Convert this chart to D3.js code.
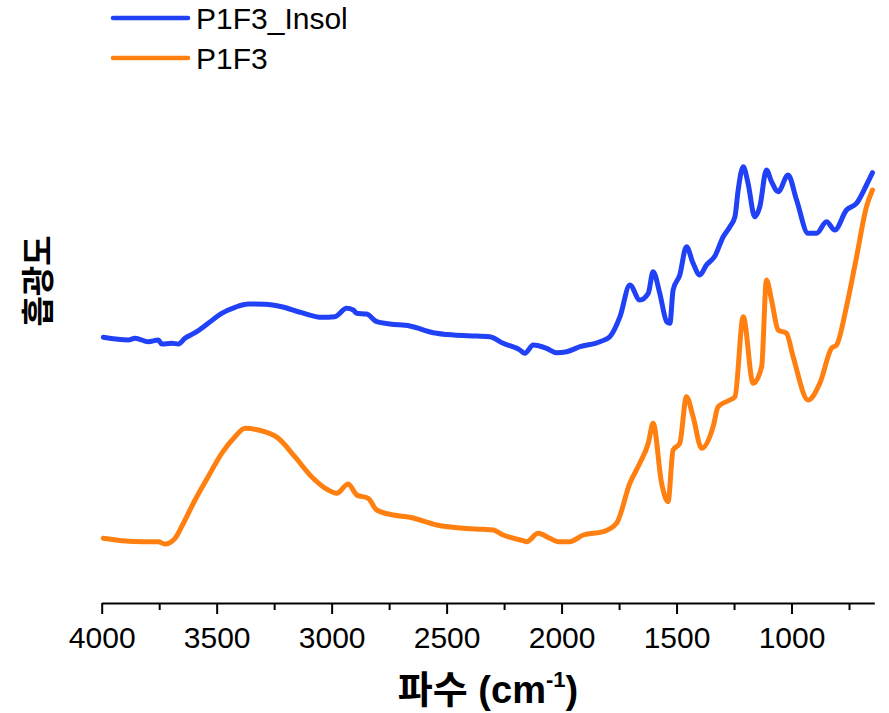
<!DOCTYPE html>
<html><head><meta charset="utf-8">
<script src="https://cdn.jsdelivr.net/npm/d3@7"></script>
<style>body{margin:0;background:#fff} svg{display:block}</style>
</head><body><svg id="c" width="889" height="713"></svg>
<script>
const seriesNames = ["P1F3_Insol", "P1F3"];
const seriesColors = ["#2041f5", "#ff8010"];
const majorTicks = [4000, 3500, 3000, 2500, 2000, 1500, 1000];
const minorTicks = [3750, 3250, 2750, 2250, 1750, 1250, 750];
const xTitle = "파수";
const yTitle = "흡광도";

const insolWn = [3993,3884,3855,3797,3754,3739,3696,3667,3638,3594,3537,3478,3420,3363,3290,3217,3130,3043,2986,2935,2906,2891,2848,2804,2747,2660,2558,2471,2370,2312,2254,2181,2160,2123,2065,2022,1978,1920,1833,1790,1746,1703,1660,1623,1602,1573,1543,1529,1515,1486,1457,1428,1399,1370,1333,1297,1268,1246,1232,1210,1189,1160,1138,1109,1087,1058,1015,978,928,891,848,812,761,717,674,648];
const insolAbs = [266.7,264,265.7,262.3,264,260,260.7,260,265.7,271.3,280.7,290.7,296.7,300,299.7,297.3,291.3,286.7,287.3,295.7,294,290.7,290,282.3,280,278,271.3,269,268,267.3,260.7,254,250.7,259,255.7,251.3,252.3,257.3,262.3,267.3,287.3,319,304,310.7,332.3,310.7,282.3,280.7,314,329,357.3,340.7,329,339,348,367.3,377.3,387.3,414,437.3,420.7,387.3,397.3,434,422.3,412.3,429,404,370.7,370.7,382.3,374,394,400.7,419,431.3];

const p1f3Wn = [3993,3913,3812,3754,3725,3681,3645,3594,3537,3478,3420,3377,3319,3232,3160,3087,3015,2978,2928,2902,2891,2841,2804,2732,2660,2543,2428,2341,2297,2254,2167,2152,2102,2051,2015,1964,1906,1819,1761,1703,1660,1623,1602,1565,1537,1515,1486,1457,1428,1391,1341,1319,1268,1246,1210,1167,1130,1109,1087,1058,1022,993,928,877,826,804,761,717,674,648];
const p1f3Abs = [65.7,63.3,62.3,62.3,60,65.7,80.7,104,127.3,150.7,167.3,175.7,174,165.7,147.3,127.3,114,110.7,120,112.3,109,105.7,94,89,86.7,79,75.7,74.7,74,69,63.3,62.3,70.7,65.7,62.3,62.3,69,72.3,80.7,120.7,140.7,160.7,180.7,120.7,102.3,154,160.7,207.3,187.3,155.7,177.3,197.3,204,207.3,287.3,220.7,237.3,324,304,274,270.7,247.3,204,220.7,255.7,259,297.3,347.3,397.3,414];

const svg = d3.select("#c");
const x = d3.scaleLinear().domain([4000, 640]).range([101.7, 874.3]);
const y = d3.scaleLinear().domain([0, 500]).range([604, 104]);
const axisY = 603;

const series = [
  {name: seriesNames[0], color: seriesColors[0], pts: insolWn.map((w, i) => [w, insolAbs[i]])},
  {name: seriesNames[1], color: seriesColors[1], pts: p1f3Wn.map((w, i) => [w, p1f3Abs[i]])}
];

const line = d3.line().x(d => x(d[0])).y(d => y(d[1])).curve(d3.curveMonotoneX);

svg.selectAll("path.series").data(series).join("path")
  .attr("class", "series")
  .attr("d", d => line(d.pts))
  .attr("fill", "none")
  .attr("stroke", d => d.color)
  .attr("stroke-width", 5)
  .attr("stroke-linejoin", "round")
  .attr("stroke-linecap", "round");

// minor ticks
const gMinor = svg.append("g").attr("transform", `translate(0,${axisY})`)
  .call(d3.axisBottom(x).tickValues(minorTicks).tickSize(7).tickFormat(""));
gMinor.select(".domain").remove();
gMinor.selectAll("line").attr("stroke", "#000").attr("stroke-width", 2);

// major axis
const gx = svg.append("g").attr("transform", `translate(0,${axisY})`)
  .call(d3.axisBottom(x).tickValues(majorTicks).tickSize(11).tickSizeOuter(0).tickPadding(13).tickFormat(d3.format("d")));
gx.select(".domain").attr("stroke", "#000").attr("stroke-width", 2);
gx.selectAll("line").attr("stroke", "#000").attr("stroke-width", 2);
gx.selectAll("text").attr("fill", "#000")
  .style("font-family", "'Liberation Sans', Arial, sans-serif").style("font-size", "30px");

// x title
const xt = svg.append("text")
  .attr("x", (x.range()[0] + x.range()[1]) / 2)
  .attr("y", 703)
  .attr("text-anchor", "middle")
  .style("font-family", "'Liberation Sans', 'Noto Sans CJK KR', sans-serif")
  .style("font-weight", "bold").style("font-size", "38px").attr("fill", "#000");
xt.append("tspan").text(xTitle + " (cm");
xt.append("tspan").attr("dy", -16).style("font-size", "22px").text("-1");
xt.append("tspan").attr("dy", 16).text(")");

// y title
svg.append("text")
  .attr("transform", "translate(50,281) rotate(-90)")
  .attr("text-anchor", "middle")
  .style("font-family", "'Noto Sans CJK KR', sans-serif")
  .style("font-weight", "bold").style("font-size", "33px").attr("fill", "#000")
  .text(yTitle);

// legend
const lg = svg.append("g").selectAll("g").data(series).join("g")
  .attr("transform", (d, i) => `translate(0,${18 + i * 40})`);
lg.append("line").attr("x1", 113).attr("x2", 188).attr("y1", 0).attr("y2", 0)
  .attr("stroke", d => d.color).attr("stroke-width", 4.5).attr("stroke-linecap", "round");
lg.append("text").attr("x", 196).attr("y", 10.5)
  .style("font-family", "'Liberation Sans', Arial, sans-serif").style("font-size", "30px")
  .attr("fill", "#000").text(d => d.name);
</script></body></html>
